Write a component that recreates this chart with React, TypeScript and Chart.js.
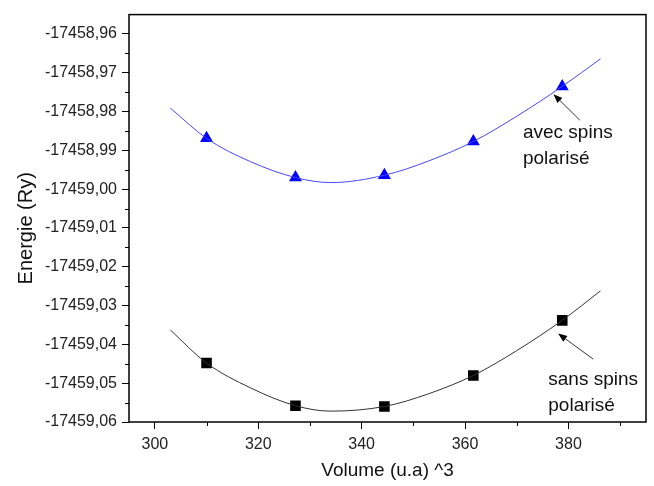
import React, { useEffect, useRef } from 'react';
import { Chart, registerables } from 'chart.js';

Chart.register(...registerables);

// Measured points
const volumes = [310, 327.2, 344.4, 361.6, 378.8];
const energyPolarized = [-17458.9869, -17458.997, -17458.9964, -17458.9877, -17458.9735];
const energyNonPolarized = [-17459.0448, -17459.0558, -17459.056, -17459.048, -17459.0338];

// Fitted curves
const fitVolumes = [303, 310, 318.5, 327.2, 334, 344.4, 353, 361.6, 370, 378.8, 386.2];
const fitPolarized = [
  -17458.9791, -17458.9869, -17458.9929, -17458.997, -17458.9983, -17458.9964,
  -17458.9927, -17458.9877, -17458.9812, -17458.9735, -17458.9664,
];
const fitNonPolarized = [
  -17459.0363, -17459.0448, -17459.0512, -17459.0558, -17459.0572, -17459.056,
  -17459.0527, -17459.048, -17459.0416, -17459.0338, -17459.0262,
];

// Axis ticks
const xTicks = [300, 320, 340, 360, 380];
const xMinorTicks = [310, 330, 350, 370, 390];
const yTicks = [
  -17459.06, -17459.05, -17459.04, -17459.03, -17459.02, -17459.01, -17459.0,
  -17458.99, -17458.98, -17458.97, -17458.96,
];
const yMinorTicks = [
  -17459.055, -17459.045, -17459.035, -17459.025, -17459.015, -17459.005,
  -17458.995, -17458.985, -17458.975, -17458.965,
];

const xTitle = 'Volume (u.a) ^3';
const yTitle = 'Energie (Ry)';

const annotationLabels = [
  { lines: ['avec spins', 'polarisé'], x: 371.2, y: -17458.9855, tail: [382.2, -17458.9822], head: [377.1, -17458.9755] },
  { lines: ['sans spins', 'polarisé'], x: 376.1, y: -17459.049, tail: [384.8, -17459.0438], head: [378.0, -17459.0372] },
];

const FONT = "'Liberation Sans', Arial, Helvetica, sans-serif";

const framePlugin = {
  id: 'framePlugin',
  afterDraw(chart: any) {
    const { ctx, chartArea } = chart;
    const xs = chart.scales.x;
    const ys = chart.scales.y;
    ctx.save();
    ctx.strokeStyle = '#000';
    ctx.lineWidth = 1;
    // minor ticks
    ctx.beginPath();
    xMinorTicks.forEach((v) => {
      const px = Math.round(xs.getPixelForValue(v)) + 0.5;
      ctx.moveTo(px, chartArea.bottom);
      ctx.lineTo(px, chartArea.bottom + 4);
    });
    yMinorTicks.forEach((v) => {
      const py = Math.round(ys.getPixelForValue(v)) + 0.5;
      ctx.moveTo(chartArea.left - 4, py);
      ctx.lineTo(chartArea.left, py);
    });
    ctx.stroke();
    // frame
    ctx.lineWidth = 1.5;
    ctx.strokeStyle = '#000';
    ctx.strokeRect(chartArea.left, chartArea.top, chartArea.right - chartArea.left, chartArea.bottom - chartArea.top);

    // y axis title (centred slightly below the middle, as in the reference)
    ctx.save();
    ctx.fillStyle = '#111';
    ctx.font = `20px ${FONT}`;
    ctx.textAlign = 'center';
    ctx.textBaseline = 'middle';
    ctx.translate(26, (chartArea.top + chartArea.bottom) / 2 + 10);
    ctx.rotate(-Math.PI / 2);
    ctx.fillText(yTitle, 0, 0);
    ctx.restore();

    // annotations
    annotationLabels.forEach((a) => {
      const tx = xs.getPixelForValue(a.x);
      const ty = ys.getPixelForValue(a.y);
      ctx.fillStyle = '#111';
      ctx.font = `19px ${FONT}`;
      ctx.textAlign = 'left';
      ctx.textBaseline = 'middle';
      a.lines.forEach((l, i) => ctx.fillText(l, tx, ty + i * 26));
      const x1 = xs.getPixelForValue(a.tail[0]);
      const y1 = ys.getPixelForValue(a.tail[1]);
      const x2 = xs.getPixelForValue(a.head[0]);
      const y2 = ys.getPixelForValue(a.head[1]);
      const ang = Math.atan2(y2 - y1, x2 - x1);
      const hl = 9;
      const hw = 3.5;
      const bx = x2 - hl * Math.cos(ang);
      const by = y2 - hl * Math.sin(ang);
      ctx.strokeStyle = '#333';
      ctx.lineWidth = 1;
      ctx.beginPath();
      ctx.moveTo(x1, y1);
      ctx.lineTo(bx, by);
      ctx.stroke();
      ctx.fillStyle = '#000';
      ctx.beginPath();
      ctx.moveTo(x2, y2);
      ctx.lineTo(bx + hw * Math.sin(ang), by - hw * Math.cos(ang));
      ctx.lineTo(bx - hw * Math.sin(ang), by + hw * Math.cos(ang));
      ctx.closePath();
      ctx.fill();
    });
    ctx.restore();
  },
};

export default function App() {
  const canvasRef = useRef<HTMLCanvasElement | null>(null);

  useEffect(() => {
    if (!canvasRef.current) return;
    Chart.defaults.font.family = FONT;
    const chart = new Chart(canvasRef.current, {
      type: 'scatter',
      data: {
        datasets: [
          {
            label: 'fit avec spins',
            data: fitVolumes.map((x, i) => ({ x, y: fitPolarized[i] })),
            showLine: true,
            borderColor: '#4646ff',
            borderWidth: 1,
            pointRadius: 0,
            cubicInterpolationMode: 'monotone',
          },
          {
            label: 'fit sans spins',
            data: fitVolumes.map((x, i) => ({ x, y: fitNonPolarized[i] })),
            showLine: true,
            borderColor: '#333333',
            borderWidth: 1,
            pointRadius: 0,
            cubicInterpolationMode: 'monotone',
          },
          {
            label: 'avec spins polarisé',
            data: volumes.map((x, i) => ({ x, y: energyPolarized[i] })),
            pointStyle: 'triangle',
            pointRadius: 7.5,
            backgroundColor: '#0000ff',
            borderColor: '#0000ff',
            borderWidth: 0,
          },
          {
            label: 'sans spins polarisé',
            data: volumes.map((x, i) => ({ x, y: energyNonPolarized[i] })),
            pointStyle: 'rect',
            pointRadius: 7.5,
            backgroundColor: '#000000',
            borderColor: '#000000',
            borderWidth: 0,
          },
        ],
      } as any,
      options: {
        responsive: false,
        animation: false,
        layout: { padding: { top: 8, right: 8, left: 0, bottom: 0 } },
        plugins: { legend: { display: false }, tooltip: { enabled: false } },
        scales: {
          x: {
            type: 'linear',
            min: 295,
            max: 395,
            afterBuildTicks: (s: any) => {
              s.ticks = xTicks.map((v) => ({ value: v }));
            },
            afterFit: (s: any) => {
              s.height = 64;
            },
            border: { display: false },
            grid: { drawOnChartArea: false, drawTicks: true, tickLength: 7, color: '#000', tickWidth: 1 },
            ticks: {
              font: { size: 16, family: FONT },
              color: '#222',
              padding: 6,
              maxRotation: 0,
              callback: (v: any) => String(v),
            },
            title: {
              display: true,
              text: xTitle,
              color: '#111',
              font: { size: 19, family: FONT },
              padding: { top: 0, bottom: 4 },
            },
          },
          y: {
            type: 'linear',
            min: -17459.06,
            max: -17458.955,
            afterBuildTicks: (s: any) => {
              s.ticks = yTicks.map((v) => ({ value: v }));
            },
            afterFit: (s: any) => {
              s.width = 129;
            },
            border: { display: false },
            grid: { drawOnChartArea: false, drawTicks: true, tickLength: 7, color: '#000', tickWidth: 1 },
            ticks: {
              font: { size: 16, family: FONT },
              color: '#222',
              padding: 5,
              callback: (v: any) => Number(v).toFixed(2).replace('.', ','),
            },
            title: { display: false },
          },
        },
      } as any,
      plugins: [framePlugin],
    });
    return () => chart.destroy();
  }, []);

  return (
    <div style={{ position: 'absolute', left: 0, top: 0, width: 654, height: 486, background: '#fff' }}>
      <canvas ref={canvasRef} width={654} height={486} style={{ display: 'block' }} />
    </div>
  );
}
